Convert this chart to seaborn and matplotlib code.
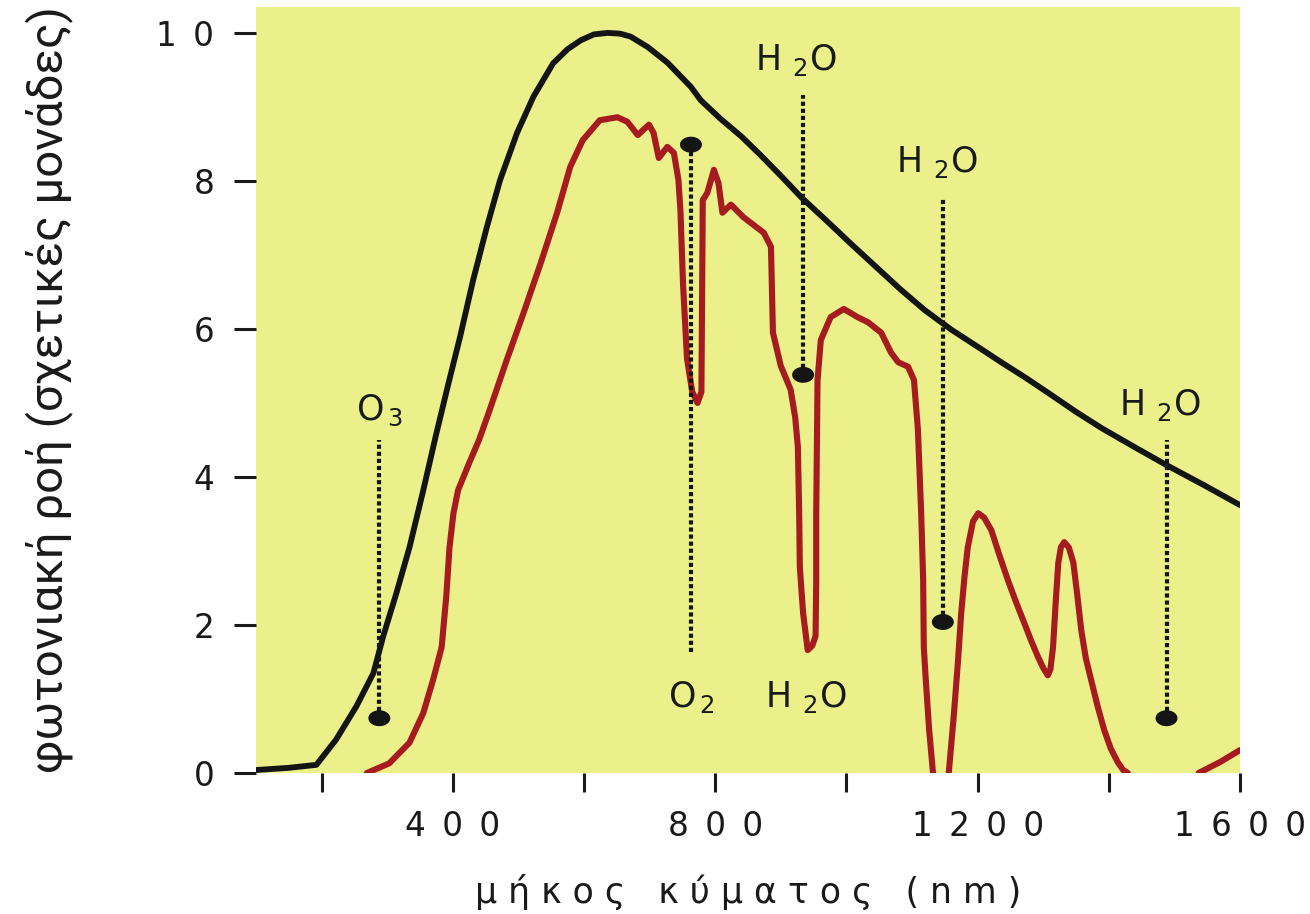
import numpy as np
import pandas as pd
import seaborn as sns
import matplotlib.pyplot as plt
from matplotlib.path import Path

# black curve: photon flux above the atmosphere
black_nm = [100, 150, 192, 222, 253, 279, 294, 314, 334, 355, 375, 393, 411, 431, 452, 472,
            498, 523, 553, 575, 595, 615, 636, 655, 671, 697, 727, 763, 778, 808, 840, 869,
            900, 931, 970, 1007, 1045, 1083, 1120, 1160, 1200, 1236, 1275, 1312, 1350, 1389,
            1440, 1488, 1545, 1600]
black_val = [0.04, 0.07, 0.11, 0.45, 0.9, 1.35, 1.85, 2.43, 3.05, 3.82, 4.59, 5.25, 5.89, 6.66, 7.38, 8.01,
             8.65, 9.14, 9.59, 9.78, 9.9, 9.98, 10.0, 9.99, 9.95, 9.81, 9.6, 9.27, 9.09, 8.84, 8.6, 8.35,
             8.07, 7.78, 7.46, 7.15, 6.84, 6.53, 6.25, 5.99, 5.76, 5.55, 5.33, 5.11, 4.88, 4.66,
             4.4, 4.16, 3.89, 3.62]

# red curve: flux at sea level
red_nm = [269, 303, 334, 355, 370, 383, 390, 395, 401, 408, 425, 440, 456, 483, 508, 534, 559,
          579, 598, 624, 651, 666, 682, 699, 706, 714, 727, 737, 744, 747, 751, 757, 765, 773,
          779, 780, 781, 788, 798, 805, 811, 824, 843, 874, 885, 888, 900, 915, 922, 926, 928,
          929, 934, 941, 948, 953, 954, 954, 956, 961, 976, 996, 1017, 1033, 1053, 1068, 1079,
          1094, 1103, 1109, 1114, 1117, 1118, 1121, 1126, 1132, 1140, 1148, 1156, 1160, 1164,
          1170, 1175, 1180, 1185, 1193, 1201, 1210, 1221, 1233, 1246, 1259, 1271, 1282, 1292,
          1300, 1307, 1311, 1315, 1319, 1323, 1327, 1332, 1339, 1346, 1352, 1358, 1365, 1373,
          1383, 1393, 1403, 1414, 1422, 1429]
red_val = [0.0, 0.13, 0.41, 0.81, 1.26, 1.7, 2.38, 3.05, 3.51, 3.82, 4.19, 4.5, 4.9, 5.6, 6.22, 6.89, 7.57,
           8.19, 8.55, 8.82, 8.86, 8.8, 8.62, 8.76, 8.65, 8.31, 8.46, 8.38, 8.01, 7.6, 6.6, 5.6, 5.15, 5.0,
           5.15, 6.4, 7.74, 7.84, 8.15, 7.97, 7.57, 7.68, 7.51, 7.3, 7.11, 5.95, 5.5, 5.18, 4.8, 4.41, 3.51,
           2.78, 2.16, 1.66, 1.72, 1.85, 2.61, 3.51, 5.31, 5.85, 6.16, 6.27, 6.16, 6.09, 5.95, 5.68, 5.55,
           5.49, 5.31, 4.64, 3.51, 2.61, 1.7, 1.26, 0.6, 0.0, -0.5, -0.5, 0.0, 0.4, 0.81,
           1.5, 2.16, 2.65, 3.05, 3.4, 3.51, 3.45, 3.28, 2.95, 2.61, 2.3, 2.03, 1.78, 1.57,
           1.42, 1.32, 1.4, 1.7, 2.3, 2.84, 3.05, 3.12, 3.05, 2.84, 2.4, 1.93, 1.55, 1.26,
           0.9, 0.58, 0.33, 0.14, 0.04, 0.0]
red_tail_nm = [1537, 1570, 1600]
red_tail_val = [0.0, 0.15, 0.31]

# absorption markers
gas_nm = [288, 763, 934, 1147, 1488]
gas_top = [4.5, 8.49, 9.16, 7.78, 4.5]
gas_bottom = [0.74, 1.64, 5.38, 2.04, 0.74]
gas_dot = [0.74, 8.49, 5.38, 2.04, 0.74]

label_text = ['O$_{\\,3}$', 'O$_{\\,2}$', 'H $_2$O', 'H $_2$O', 'H $_2$O', 'H $_2$O']
label_nm = [289, 763, 923, 1137, 1477, 938]
label_val = [4.9, 1.03, 9.64, 8.26, 4.97, 1.03]

xticks = [200, 400, 600, 800, 1000, 1200, 1400, 1600]
xtick_labels = ['', '4\u20020\u20020', '', '8\u20020\u20020', '',
                '1\u20022\u20020\u20020', '', '1\u20026\u20020\u20020']
yticks = [0, 2, 4, 6, 8, 10]
ytick_labels = ['0', '2', '4', '6', '8', '1\u20020']

sns.set_style('ticks')
plt.rcParams['font.family'] = ['DejaVu Sans']
plt.rcParams['mathtext.default'] = 'regular'

fig = plt.figure(figsize=(13.1, 9.14), dpi=100)
ax = fig.add_axes([256 / 1310, 141 / 914, 984 / 1310, 766 / 914])
ax.set_facecolor('#ebf08b')

black_df = pd.DataFrame({'nm': black_nm, 'flux': black_val})
red_df = pd.DataFrame({'nm': red_nm, 'flux': red_val})
tail_df = pd.DataFrame({'nm': red_tail_nm, 'flux': red_tail_val})

sns.lineplot(data=black_df, x='nm', y='flux', color='#141414', linewidth=4.2,
             sort=False, estimator=None, ax=ax)
sns.lineplot(data=red_df, x='nm', y='flux', color='#a51b1f', linewidth=4.4,
             sort=False, estimator=None, ax=ax)
sns.lineplot(data=tail_df, x='nm', y='flux', color='#a51b1f', linewidth=4.4,
             sort=False, estimator=None, ax=ax)

ax.vlines(gas_nm, gas_bottom, gas_top, colors='#141414', linewidth=3,
          linestyles=[(0, (1.0, 0.7))])
t = np.linspace(0, 2 * np.pi, 60)
ellipse = Path(np.column_stack([1.38 * np.cos(t), np.sin(t)]))
sns.scatterplot(x=gas_nm, y=gas_dot, marker=ellipse, s=250, color='#141414',
                edgecolor='none', ax=ax, zorder=5)

for txt, xv, yv in zip(label_text, label_nm, label_val):
    ax.text(xv, yv, txt, fontsize=25, color='#1a1a1a', ha='center', va='center')

ax.set_xlim(100, 1600)
ax.set_ylim(0, 10.35)
ax.set_xticks(xticks)
ax.set_xticklabels(xtick_labels)
ax.set_yticks(yticks)
ax.set_yticklabels(ytick_labels)
ax.tick_params(axis='x', bottom=True, direction='out', length=14, width=2.2, pad=13,
               labelsize=23.5, colors='#1a1a1a')
ax.tick_params(axis='y', left=True, direction='out', length=16, width=2.2, pad=14,
               labelsize=23.5, colors='#1a1a1a')
for sp in ax.spines.values():
    sp.set_visible(False)

ax.set_xlabel('μ ή κ ο ς   κ ύ μ α τ ο ς   ( n m )', fontsize=25, color='#1a1a1a', labelpad=22)
ax.set_ylabel('φωτονιακή ροή (σχετικές μονάδες)', fontsize=34, color='#1a1a1a',
              family=['Roboto', 'DejaVu Sans'])
ax.yaxis.set_label_coords(-0.186, 0.5)

fig.savefig('out.png', dpi=100)
